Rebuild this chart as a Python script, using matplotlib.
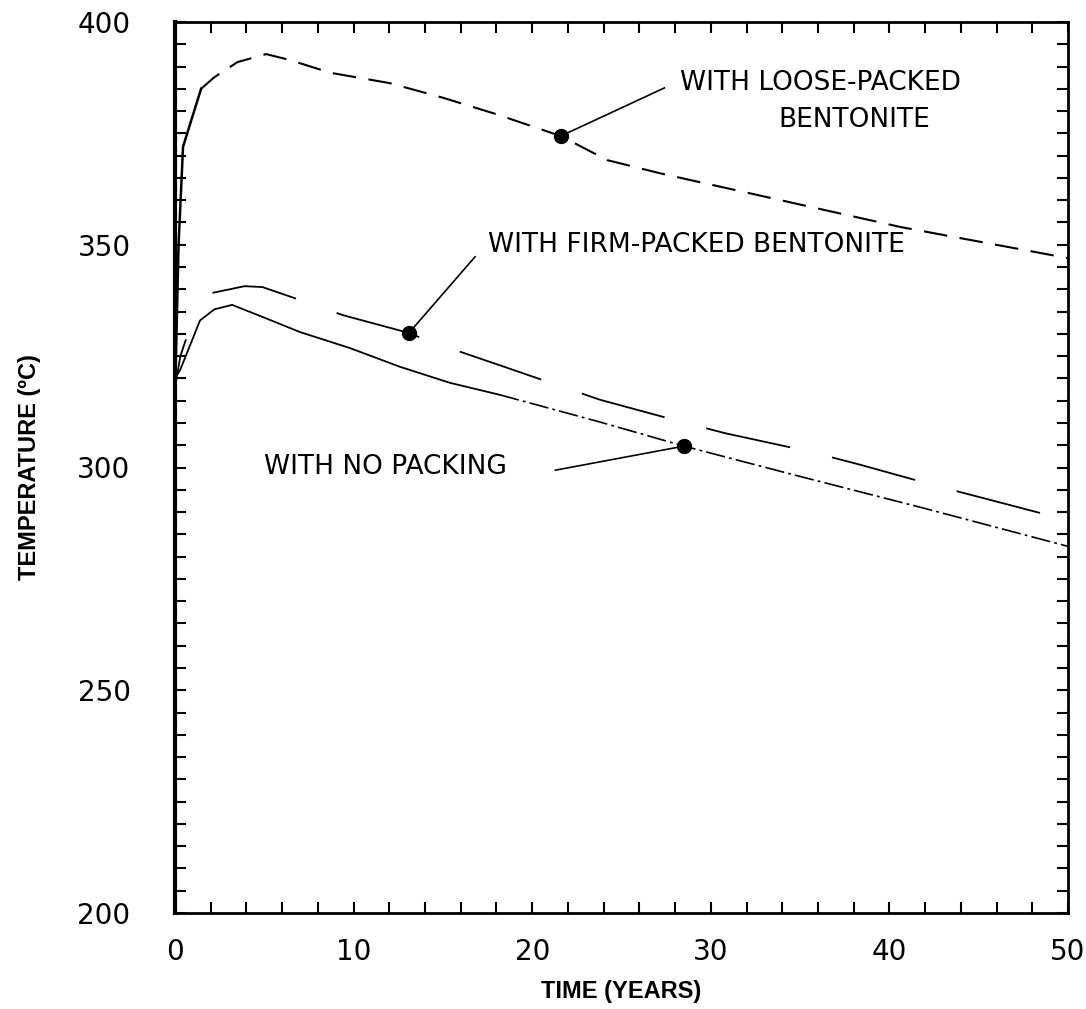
import matplotlib
matplotlib.use("Agg")
import matplotlib.pyplot as plt
from matplotlib.ticker import MultipleLocator

# readings
loose_t = [0.0, 0.2, 0.45, 1.46, 2.2, 3.5, 5.1, 6.4, 8.7, 12.0, 15.0, 18.0,
           21.6, 24.2, 27.2, 32.8, 40.6, 50.0]
loose_T = [316, 350, 372, 385, 387.6, 391, 392.8, 391.5, 388.6, 386.3, 383,
           379.3, 374.4, 369, 366, 361, 354, 347]

firm_t = [0.0, 0.3, 0.6, 2.1, 3.9, 4.9, 7.0, 9.4, 13.1, 14.2, 18.0, 23.8,
          28.4, 30.8, 35.4, 38.2, 42.7, 45.0, 49.1, 50.0]
firm_T = [318, 325, 328.6, 339.2, 340.7, 340.5, 337.6, 334.2, 330.2, 328.4,
          323.2, 315.2, 310.2, 307.7, 303.7, 300.8, 295.8, 293.4, 289.1, 288]

none_t = [0.0, 0.3, 0.6, 1.0, 1.4, 2.2, 3.2, 4.9, 7.0, 9.8, 12.6, 15.4, 18.2,
          23.8, 28.5, 34.7, 41.9, 50.0]
none_T = [320, 322, 325, 329, 333, 335.5, 336.5, 333.8, 330.4, 326.8, 322.6,
          319, 316.3, 310.2, 304.8, 298.3, 290.9, 282.3]

# dot positions on each curve
loose_dot = (21.6, 374.4)
firm_dot = (13.1, 330.2)
none_dot = (28.5, 304.8)

plt.rcParams['lines.scale_dashes'] = False

fig = plt.figure(figsize=(10.86, 10.09), dpi=100)
ax = fig.add_axes([175 / 1086, 1 - 913 / 1009, 893 / 1086, 891 / 1009])

# loose-packed: solid rise, then dashes
ax.plot(loose_t[:4], loose_T[:4], color='black', lw=1.8)
ax.plot(loose_t[3:], loose_T[3:], color='black', lw=1.5, dashes=(17, 9))

# firm-packed: short solid start, gap, then long dashes
ax.plot(firm_t[:3], firm_T[:3], color='black', lw=1.3)
ax.plot(firm_t[3:], firm_T[3:], color='black', lw=1.3, dashes=(62, 31))

# no packing: solid, faded to dash-dot at the right
ax.plot(none_t[:13], none_T[:13], color='black', lw=1.3)
ax.plot(none_t[12:], none_T[12:], color='black', lw=1.2, dashes=(14, 3, 2, 3))

for d in (loose_dot, firm_dot, none_dot):
    ax.plot(*d, 'o', color='black', ms=10)

ax.plot([loose_dot[0], 27.4], [loose_dot[1], 385.2], color='black', lw=1.2)
ax.plot([firm_dot[0], 16.8], [firm_dot[1], 347.3], color='black', lw=1.2)
ax.plot([21.3, none_dot[0]], [299.4, none_dot[1]], color='black', lw=1.2)

txt = dict(fontsize=19, va='center', ha='left', family='DejaVu Sans')
ax.text(28.3, 386.3, 'WITH LOOSE-PACKED', **txt)
ax.text(33.8, 378.0, 'BENTONITE', **txt)
ax.text(17.5, 350.0, 'WITH FIRM-PACKED BENTONITE', **txt)
ax.text(5.0, 300.1, 'WITH NO PACKING', **txt)

ax.set_xlim(0, 50)
ax.set_ylim(200, 400)
ax.xaxis.set_major_locator(MultipleLocator(10))
ax.xaxis.set_minor_locator(MultipleLocator(2))
ax.yaxis.set_major_locator(MultipleLocator(50))
ax.yaxis.set_minor_locator(MultipleLocator(5))
ax.tick_params(which='both', direction='in', top=True, right=True,
               length=8, width=1.5)
ax.tick_params(axis='x', which='major', labelsize=20, pad=18)
ax.tick_params(axis='y', which='major', labelsize=20, pad=32)
for s in ax.spines.values():
    s.set_linewidth(2)
ax.spines['left'].set_linewidth(3)

lab = dict(fontsize=17, fontweight='bold',
           family=['Liberation Sans Narrow', 'Liberation Sans', 'DejaVu Sans'])
ax.set_xlabel('TIME (YEARS)', labelpad=10, **lab)
ax.set_ylabel('TEMPERATURE (ºC)', labelpad=26, **lab)

fig.savefig('out.png', dpi=100)
